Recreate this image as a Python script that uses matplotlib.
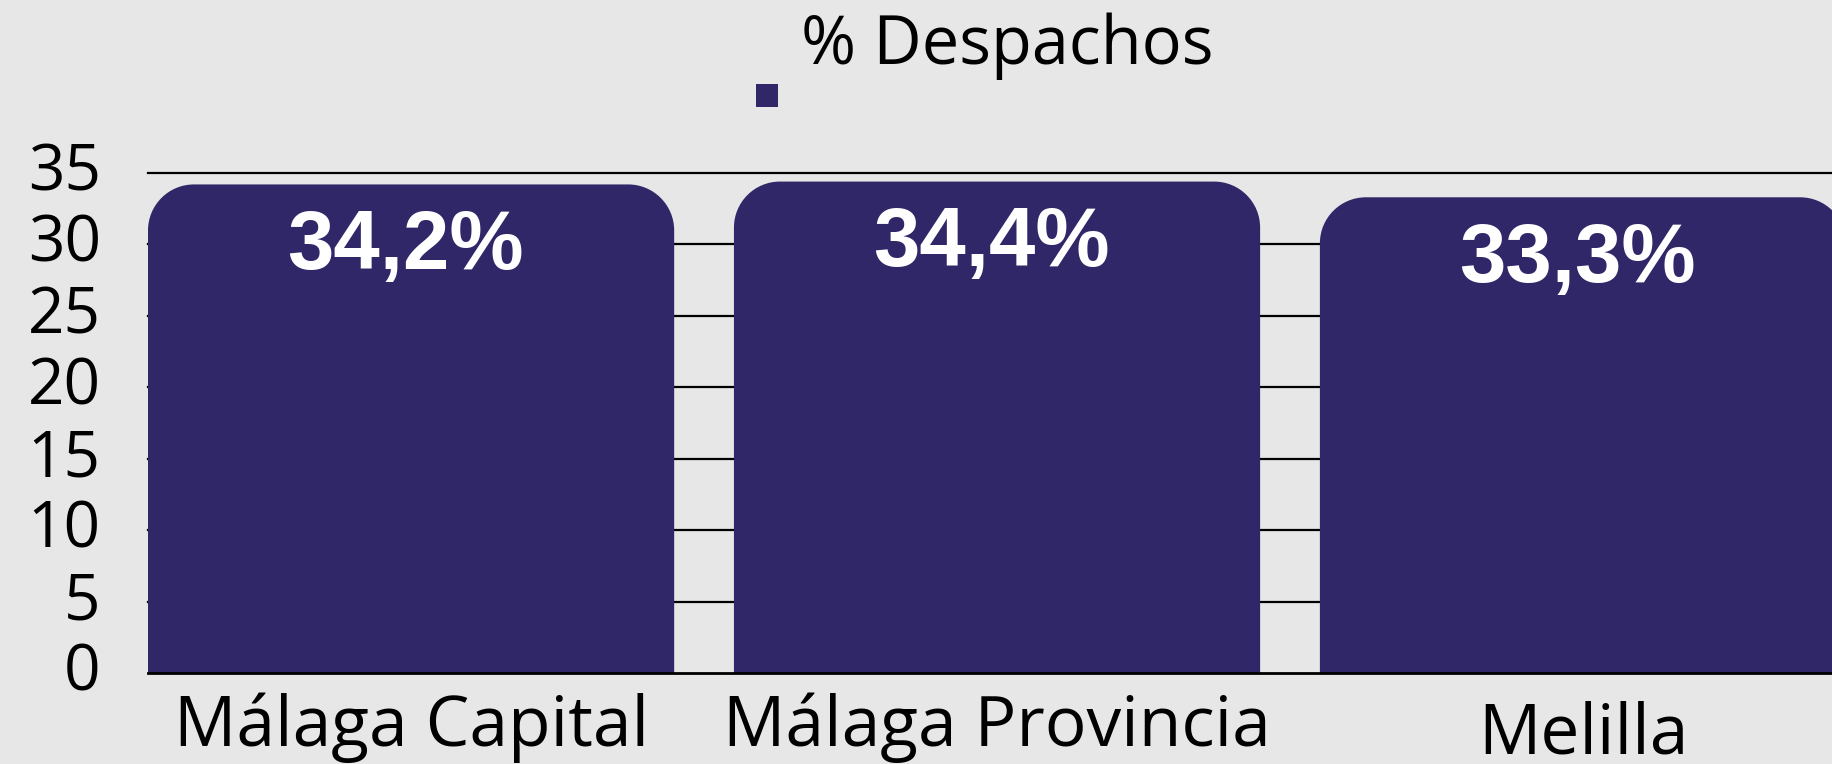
import matplotlib
matplotlib.use("Agg")
import matplotlib.pyplot as plt
from matplotlib.path import Path
from matplotlib.patches import PathPatch, Rectangle
import matplotlib.transforms as mtransforms

# ---- data ----
categories = ["Málaga Capital", "Málaga Provincia", "Melilla"]
values = [34.2, 34.4, 33.3]
value_labels = ["34,2%", "34,4%", "33,3%"]
series_name = "% Despachos"
yticks = [0, 5, 10, 15, 20, 25, 30, 35]

BG = "#E7E7E7"
BAR = "#302769"

W, H = 1832, 764
fig = plt.figure(figsize=(W / 100, H / 100), dpi=100, facecolor=BG)
ax = fig.add_axes([148 / W, 91 / H, 1 - 148 / W, 500 / H])
ax.set_facecolor(BG)

bw = 0.898
bars = ax.bar(range(len(categories)), values, width=bw, color=BAR, zorder=3)
ax.set_xlim(-bw / 2, 2.425)
ax.set_ylim(0, 35)

# grid lines
for y in yticks[1:]:
    ax.axhline(y, color="black", lw=1.6, zorder=1, clip_on=False)
ax.axhline(0, color="black", lw=2.0, zorder=4, clip_on=False)

for s in ax.spines.values():
    s.set_visible(False)

# rounded top corners
fig.canvas.draw()
px_per_x = ax.transData.transform((1, 0))[0] - ax.transData.transform((0, 0))[0]
px_per_y = ax.transData.transform((0, 1))[1] - ax.transData.transform((0, 0))[1]
r_px = 46
rx = r_px / px_per_x
ry = r_px / px_per_y
k = 0.5523
for rect in bars.patches:
    x0 = rect.get_x()
    x1 = x0 + rect.get_width()
    h = rect.get_height()
    verts = [
        (x0, 0), (x0, h - ry),
        (x0, h - ry + k * ry), (x0 + rx - k * rx, h), (x0 + rx, h),
        (x1 - rx, h),
        (x1 - rx + k * rx, h), (x1, h - ry + k * ry), (x1, h - ry),
        (x1, 0), (x0, 0),
    ]
    codes = [Path.MOVETO, Path.LINETO,
             Path.CURVE4, Path.CURVE4, Path.CURVE4,
             Path.LINETO,
             Path.CURVE4, Path.CURVE4, Path.CURVE4,
             Path.LINETO, Path.CLOSEPOLY]
    pp = PathPatch(Path(verts, codes), facecolor=BAR, edgecolor="none", zorder=3)
    ax.add_patch(pp)
    rect.set_visible(False)

# value labels
for rect, lab in zip(bars.patches, value_labels):
    ax.annotate(lab, (rect.get_x() + rect.get_width() / 2, rect.get_height()),
                xytext=(-4, -45), textcoords="offset points",
                ha="center", va="center", color="white",
                fontsize=60, fontweight="bold", family="Liberation Sans",
                zorder=5)

# ticks
ax.set_yticks(yticks)
ax.set_yticklabels([str(t) for t in yticks], family="Open Sans", fontsize=46)
ax.tick_params(axis="y", length=0, pad=34)
up = mtransforms.ScaledTranslation(0, 5 / 72, fig.dpi_scale_trans)
for t in ax.get_yticklabels():
    t.set_transform(t.get_transform() + up)
ax.set_xticks(range(len(categories)))
ax.set_xticklabels(categories, family="Open Sans", fontsize=50)
ax.tick_params(axis="x", length=0, pad=14)
xl = ax.get_xticklabels()
xl[2].set_transform(xl[2].get_transform() +
                    mtransforms.ScaledTranslation(0, -6 / 72, fig.dpi_scale_trans))

# legend-like title and marker
fig.text(1007 / W, (H - 64) / H, series_name, ha="center", va="baseline",
         family="Open Sans", fontsize=48, color="black")
fig.patches.append(Rectangle((756 / W, (H - 107) / H), 22 / W, 23 / H,
                             transform=fig.transFigure, facecolor=BAR,
                             edgecolor="none"))

fig.savefig("out.png", dpi=100, facecolor=BG)
